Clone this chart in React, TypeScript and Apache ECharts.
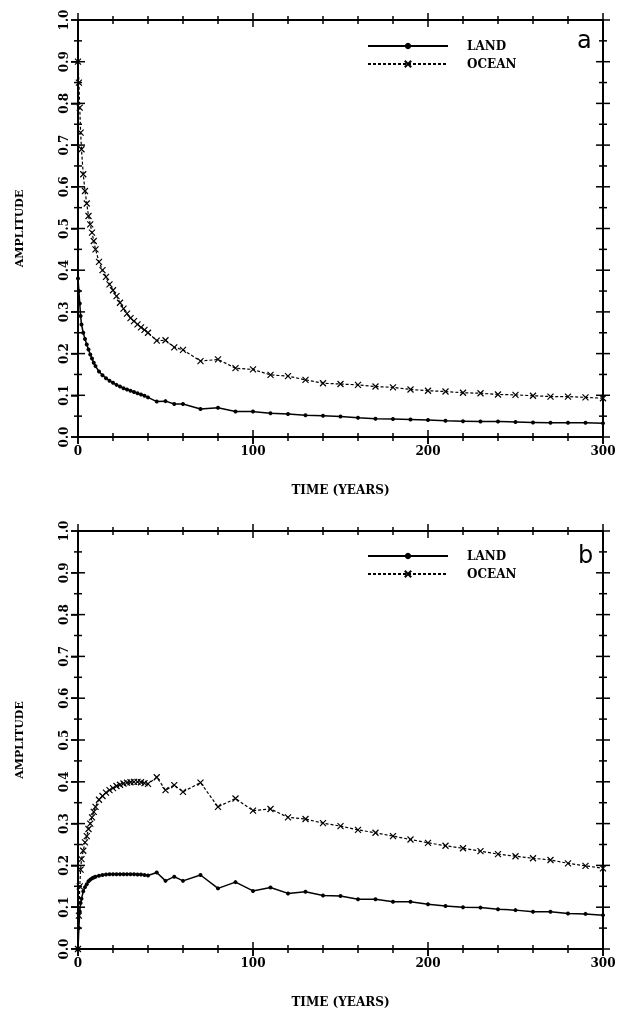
import React, { useEffect, useRef } from "react";
import * as echarts from "echarts";

// Time sampling (years), shared by all curves
const TIMES = [
  0, 0.5, 1, 1.5, 2,
  3, 4, 5, 6, 7, 8, 9, 10,
  12, 14, 16, 18, 20, 22, 24, 26, 28, 30, 32, 34, 36, 38, 40,
  45, 50, 55, 60,
  70, 80, 90, 100, 110, 120, 130, 140, 150, 160, 170, 180, 190, 200,
  210, 220, 230, 240, 250, 260, 270, 280, 290, 300,
];

// Panel a
const LAND_A = [
  0.38, 0.35, 0.32, 0.29, 0.27,
  0.25, 0.235, 0.222, 0.21, 0.198, 0.188, 0.178, 0.17,
  0.157, 0.148, 0.141, 0.135, 0.13, 0.125, 0.121, 0.117, 0.114, 0.111, 0.108, 0.105, 0.102, 0.099, 0.095,
  0.085, 0.086, 0.079, 0.079,
  0.067, 0.07, 0.061, 0.061, 0.057, 0.055, 0.052, 0.051, 0.049, 0.046, 0.044, 0.043, 0.042, 0.041,
  0.039, 0.038, 0.037, 0.037, 0.036, 0.035, 0.034, 0.034, 0.034, 0.033,
];
const OCEAN_A = [
  0.9, 0.85, 0.79, 0.73, 0.69,
  0.63, 0.59, 0.56, 0.53, 0.51, 0.49, 0.47, 0.45,
  0.42, 0.4, 0.384, 0.366, 0.352, 0.338, 0.322, 0.308, 0.296, 0.285, 0.278, 0.27, 0.263, 0.257, 0.25,
  0.231, 0.232, 0.215, 0.209,
  0.182, 0.186, 0.165, 0.162, 0.149, 0.146, 0.137, 0.129, 0.127, 0.125, 0.121, 0.119, 0.114, 0.111,
  0.109, 0.106, 0.105, 0.102, 0.101, 0.099, 0.097, 0.097, 0.095, 0.093,
];

// Panel b
const LAND_B = [
  0, 0.05, 0.09, 0.11, 0.12,
  0.138, 0.148, 0.155, 0.162, 0.166, 0.169, 0.171, 0.173,
  0.175, 0.177, 0.178, 0.179, 0.179, 0.179, 0.179, 0.179, 0.179, 0.179, 0.179, 0.178, 0.178, 0.177, 0.176,
  0.183, 0.163, 0.173, 0.163,
  0.177, 0.145, 0.16, 0.139, 0.147, 0.133, 0.137, 0.128, 0.127, 0.119, 0.119, 0.113, 0.113, 0.107,
  0.103, 0.1, 0.099, 0.095, 0.093, 0.089, 0.089, 0.085, 0.084, 0.081,
];
const OCEAN_B = [
  0, 0.08, 0.15, 0.19, 0.215,
  0.235, 0.255, 0.27, 0.287, 0.3, 0.315, 0.328, 0.34,
  0.357, 0.366, 0.374, 0.38, 0.385, 0.39, 0.393, 0.396, 0.398, 0.399, 0.4, 0.4, 0.399, 0.397, 0.395,
  0.411, 0.38, 0.392, 0.376,
  0.398, 0.34, 0.36, 0.331, 0.335, 0.315, 0.311, 0.301, 0.294, 0.285, 0.278, 0.27, 0.262, 0.254,
  0.247, 0.241, 0.234, 0.227, 0.222, 0.217, 0.213, 0.205, 0.199, 0.193,
];

// Tick positions of the frame (ticks cross all four sides)
const X_MAJOR_TICKS = [0, 100, 200, 300];
const X_MINOR_TICKS = [20, 40, 60, 80, 120, 140, 160, 180, 220, 240, 260, 280];
const Y_MAJOR_TICKS = [0, 0.1, 0.2, 0.3, 0.4, 0.5, 0.6, 0.7, 0.8, 0.9, 1.0];
const Y_MINOR_TICKS = [0.05, 0.15, 0.25, 0.35, 0.45, 0.55, 0.65, 0.75, 0.85, 0.95];

const SERIES_NAMES = ["LAND", "OCEAN"];
const PANEL_LETTERS = ["a", "b"];
const X_NAME = "TIME (YEARS)";
const Y_NAME = "AMPLITUDE";

const SERIF = "DejaVu Serif";
const X_MARK = "path://M0,0L10,10M10,0L0,10";

const pairs = (t: number[], v: number[]) => t.map((x, i) => [x, v[i]]);

const labelFont = { fontFamily: SERIF, fontWeight: "bold" as const, fontSize: 12, color: "#000" };

const RECTS = [
  { left: 78, top: 20, width: 525, height: 417, show: true, borderColor: "#000", borderWidth: 2, backgroundColor: "transparent" },
  { left: 78, top: 531, width: 525, height: 418, show: true, borderColor: "#000", borderWidth: 2, backgroundColor: "transparent" },
];

function xAxisFor(grid: number) {
  return {
    type: "value",
    gridIndex: grid,
    position: "bottom",
    min: 0,
    max: 300,
    interval: 100,
    splitLine: { show: false },
    axisLine: { show: true, onZero: false, lineStyle: { color: "#000", width: 2 } },
    axisTick: { show: true, inside: false, length: 7, lineStyle: { color: "#000", width: 1.5 } },
    axisLabel: { show: true, ...labelFont },
    name: X_NAME,
    nameLocation: "middle",
    nameGap: 47,
    nameTextStyle: { ...labelFont },
  };
}
function yAxisFor(grid: number) {
  return {
    type: "value",
    gridIndex: grid,
    position: "left",
    min: 0,
    max: 1,
    interval: 0.1,
    splitLine: { show: false },
    axisLine: { show: true, onZero: false, lineStyle: { color: "#000", width: 2 } },
    axisTick: { show: true, inside: false, length: 7, lineStyle: { color: "#000", width: 1.5 } },
    axisLabel: {
      show: true,
      rotate: 90,
      ...labelFont,
      formatter: (v: number) => v.toFixed(1),
    },
    name: Y_NAME,
    nameLocation: "middle",
    nameGap: 53,
    nameRotate: 90,
    nameTextStyle: { ...labelFont, fontSize: 11 },
  };
}

// frame + crossing ticks, placed through the axes' own scales (api.coord)
const frameData = [
  [2, 0, 0],
  ...X_MAJOR_TICKS.map((v) => [0, v, 7]),
  ...X_MINOR_TICKS.map((v) => [0, v, 4]),
  ...Y_MAJOR_TICKS.map((v) => [1, v, 7]),
  ...Y_MINOR_TICKS.map((v) => [1, v, 4]),
];

function frameSeries(axisIndex: number) {
  const st = { stroke: "#000", lineWidth: 1.5 };
  return {
    type: "custom",
    xAxisIndex: axisIndex,
    yAxisIndex: axisIndex,
    silent: true,
    clip: false,
    z: 5,
    data: frameData,
    renderItem: (params: any, api: any) => {
      const kind = api.value(0);
      const v = api.value(1);
      const h = api.value(2);
      const cs = params.coordSys;
      const bottom = cs.y + cs.height;
      const right = cs.x + cs.width;
      if (kind === 2) {
        return {
          type: "rect",
          shape: { x: cs.x, y: cs.y, width: cs.width, height: cs.height },
          style: { fill: "none", stroke: "#000", lineWidth: 2 },
        };
      }
      if (kind === 0) {
        const px = api.coord([v, 0])[0];
        return {
          type: "group",
          children: [
            { type: "line", shape: { x1: px, y1: bottom - h, x2: px, y2: bottom + h }, style: st },
            { type: "line", shape: { x1: px, y1: cs.y - h, x2: px, y2: cs.y + h }, style: st },
          ],
        };
      }
      const py = api.coord([0, v])[1];
      return {
        type: "group",
        children: [
          { type: "line", shape: { x1: cs.x - h, y1: py, x2: cs.x + h, y2: py }, style: st },
          { type: "line", shape: { x1: right - h, y1: py, x2: right + h, y2: py }, style: st },
        ],
      };
    },
  };
}

function seriesFor(axisIndex: number, land: number[], ocean: number[]) {
  return [
    {
      type: "line",
      name: SERIES_NAMES[0],
      xAxisIndex: axisIndex,
      yAxisIndex: axisIndex,
      data: pairs(TIMES, land),
      symbol: "circle",
      symbolSize: 4,
      showAllSymbol: true,
      lineStyle: { color: "#000", width: 1.5 },
      itemStyle: { color: "#000" },
    },
    {
      type: "line",
      name: SERIES_NAMES[1],
      xAxisIndex: axisIndex,
      yAxisIndex: axisIndex,
      data: pairs(TIMES, ocean),
      symbol: X_MARK,
      symbolSize: 6,
      showAllSymbol: true,
      lineStyle: { color: "#000", width: 1.2, type: [3, 2] },
      itemStyle: { color: "#000", borderColor: "#000", borderWidth: 1.2 },
    },
  ];
}

function legendAt(top: number) {
  return {
    data: SERIES_NAMES,
    orient: "vertical",
    left: 362,
    top,
    itemWidth: 80,
    itemHeight: 8,
    itemGap: 6,
    selectedMode: false,
    textStyle: { ...labelFont, padding: [0, 0, 0, 14] },
  };
}

function letterTitle(text: string, left: number, top: number) {
  return {
    text,
    left,
    top,
    textStyle: { fontSize: 24, fontFamily: "DejaVu Sans", fontWeight: "normal", color: "#000" },
  };
}

export default function App() {
  const ref = useRef<HTMLDivElement>(null);
  useEffect(() => {
    if (!ref.current) return;
    const chart = echarts.init(ref.current, undefined, { renderer: "svg" });
    chart.setOption({
      animation: false,
      title: [letterTitle(PANEL_LETTERS[0], 572, 23), letterTitle(PANEL_LETTERS[1], 573, 538)],
      grid: RECTS,
      xAxis: [xAxisFor(0), xAxisFor(1)],
      yAxis: [yAxisFor(0), yAxisFor(1)],
      legend: [legendAt(35), legendAt(545)],
      series: [
        frameSeries(0),
        ...seriesFor(0, LAND_A, OCEAN_A),
        frameSeries(1),
        ...seriesFor(1, LAND_B, OCEAN_B),
      ],
    });
    return () => chart.dispose();
  }, []);
  return <div ref={ref} style={{ position: "fixed", left: 0, top: 0, width: 619, height: 1013 }} />;
}
